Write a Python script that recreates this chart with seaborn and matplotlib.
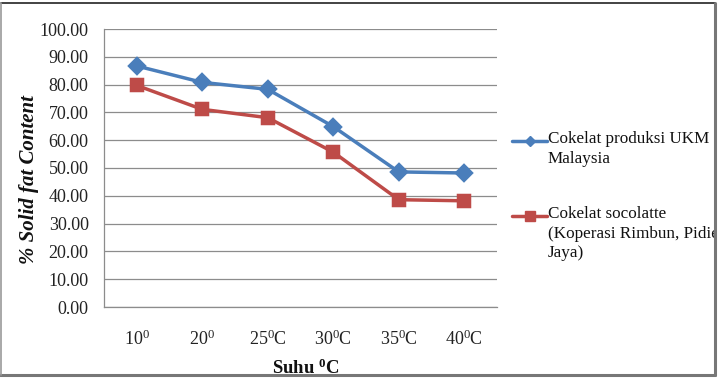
import matplotlib
matplotlib.use("Agg")
import matplotlib.pyplot as plt
from matplotlib.lines import Line2D
from matplotlib.patches import Rectangle
import seaborn as sns
import pandas as pd

# ---- data ----
categories = ["10", "20", "25", "30", "35", "40"]
tick_labels = [r"10$^{0}$", r"20$^{0}$", r"25$^{0}$C", r"30$^{0}$C", r"35$^{0}$C", r"40$^{0}$C"]
series_names = ["Cokelat produksi UKM\nMalaysia",
                "Cokelat socolatte\n(Koperasi Rimbun, Pidie\nJaya)"]
ukm_values = [86.7, 80.8, 78.3, 64.9, 48.6, 48.2]
socolatte_values = [79.7, 71.1, 68.1, 55.7, 38.6, 38.2]
y_ticks = [0, 10, 20, 30, 40, 50, 60, 70, 80, 90, 100]

colors = ["#4A7EBB", "#BE4B48"]

sns.set_theme(style="white")
plt.rcParams["font.family"] = ["Liberation Serif", "DejaVu Serif"]
plt.rcParams["mathtext.fontset"] = "custom"
plt.rcParams["mathtext.rm"] = "Liberation Serif"
plt.rcParams["mathtext.it"] = "Liberation Serif:italic"
plt.rcParams["mathtext.bf"] = "Liberation Serif:bold"

df = pd.DataFrame({
    "Suhu": categories * 2,
    "SFC": ukm_values + socolatte_values,
    "Series": [series_names[0]] * len(categories) + [series_names[1]] * len(categories),
})

fig = plt.figure(figsize=(7.19, 3.78), dpi=100)
ax = fig.add_axes([104 / 719, 1 - 307 / 378, 393 / 719, 278 / 378])

sns.pointplot(data=df, x="Suhu", y="SFC", hue="Series", order=categories,
              hue_order=series_names, palette=colors, markers=["D", "s"],
              linestyles=["-", "-"], errorbar=None, ax=ax, legend=False,
              linewidth=2.4, markersize=8)
for line, ms in zip(ax.lines, [8.5, 9]):
    line.set_markersize(ms)
    line.set_linewidth(2.5)
    line.set_zorder(3)

ax.set_xlim(-0.5, len(categories) - 0.5)
ax.set_ylim(0, 100)
ax.set_yticks(y_ticks)
ax.set_yticklabels([f"{v:.2f}" for v in y_ticks])
ax.set_xticks(range(len(categories)))
ax.set_xticklabels(tick_labels)
ax.tick_params(axis="y", length=0, pad=11, labelsize=13, labelcolor="#222222")
ax.tick_params(axis="x", length=0, pad=16, labelsize=13, labelcolor="#222222")
ax.grid(axis="y", color="#8c8c8c", linewidth=0.9)
ax.grid(axis="x", visible=False)
ax.set_axisbelow(True)
for side in ["top", "right"]:
    ax.spines[side].set_visible(False)
for side in ["left", "bottom"]:
    ax.spines[side].set_color("#8c8c8c")
    ax.spines[side].set_linewidth(0.9)

ax.set_xlabel(r"Suhu $^{\mathbf{0}}$C", fontsize=13.5, fontweight="bold", color="#111111")
ax.xaxis.set_label_coords(0.514, -0.185)
ax.set_ylabel("% Solid fat Content", fontsize=15, fontweight="bold", fontstyle="italic",
              color="#111111")
ax.yaxis.set_label_coords(-0.166, 0.46)

# legend (handle aligned with the first line of each label)
legend_rows = [(141, "D", 5.5), (216, "s", 7.5)]
for (ypix, mk, ms), name, col in zip(legend_rows, series_names, colors):
    yf = 1 - ypix / 378
    fig.add_artist(Line2D([512 / 719, 547 / 719], [yf, yf], transform=fig.transFigure,
                          color=col, linewidth=2.5))
    fig.add_artist(Line2D([529.5 / 719], [yf], transform=fig.transFigure,
                          color=col, marker=mk, markersize=ms, linestyle="none"))
    fig.text(548 / 719, 1 - (ypix - 10) / 378, name, ha="left", va="top",
             fontsize=12.3, color="#111111", linespacing=1.3)

# figure frame
fig.add_artist(Rectangle((714 / 719, 0), 5 / 719, 1, transform=fig.transFigure,
                         facecolor="white", edgecolor="none", zorder=10))
fig.add_artist(Line2D([0.5 / 719, 715 / 719], [1 - 3 / 378, 1 - 3 / 378],
                      transform=fig.transFigure, color="#222222", linewidth=1.2, zorder=11))
fig.add_artist(Line2D([715 / 719, 715 / 719], [1 - 3 / 378, 1 - 375 / 378],
                      transform=fig.transFigure, color="#777777", linewidth=2.2, zorder=11))
fig.add_artist(Line2D([0, 715 / 719], [1 - 375 / 378, 1 - 375 / 378],
                      transform=fig.transFigure, color="#777777", linewidth=2.2, zorder=11))
fig.add_artist(Line2D([0.7 / 719, 0.7 / 719], [1 - 3 / 378, 1 - 375 / 378],
                      transform=fig.transFigure, color="#999999", linewidth=1.2, zorder=11))

fig.savefig("out.png", dpi=100)
